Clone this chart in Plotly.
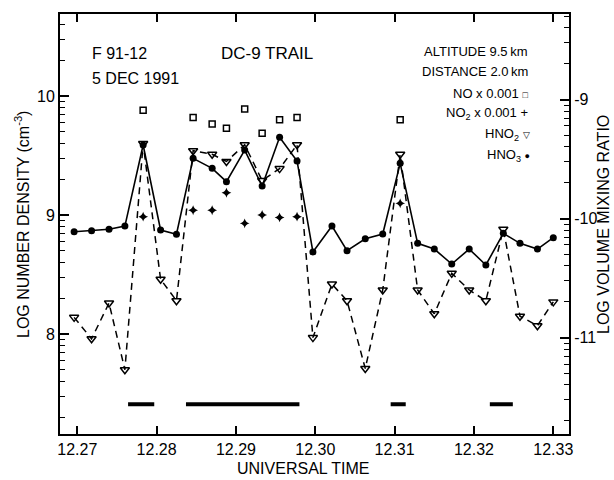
import numpy as np
import plotly.graph_objects as go

# ---- data ----
time = [12.2696, 12.2718, 12.2740, 12.2760, 12.2783, 12.2805, 12.2825, 12.2846,
        12.2870, 12.2888, 12.2911, 12.2933, 12.2955, 12.2977, 12.2997, 12.3021,
        12.3040, 12.3063, 12.3085, 12.3107, 12.3129, 12.3150, 12.3172, 12.3194,
        12.3215, 12.3237, 12.3258, 12.3280, 12.3300]
hno3 = [8.86, 8.868, 8.88, 8.907, 9.588, 8.874, 8.838, 9.476,
        9.392, 9.28, 9.546, 9.244, 9.653, 9.454, 8.69, 8.908,
        8.70, 8.80, 8.84, 9.434, 8.762, 8.714, 8.588, 8.714,
        8.58, 8.846, 8.762, 8.714, 8.81]
hno2 = [8.14, 7.96, 8.26, 7.70, 9.60, 8.46, 8.28, 9.54,
        9.51, 9.45, 9.59, 9.29, 9.39, 9.59, 7.97, 8.42,
        8.28, 7.71, 8.37, 9.51, 8.37, 8.17, 8.51, 8.37,
        8.28, 8.88, 8.15, 8.07, 8.27]
no_time = [12.2783, 12.2846, 12.2870, 12.2888, 12.2911, 12.2933, 12.2955, 12.2977, 12.3107]
no_vals = [9.88, 9.82, 9.765, 9.73, 9.89, 9.687, 9.80, 9.82, 9.80]
no2_time = [12.2783, 12.2846, 12.2870, 12.2888, 12.2911, 12.2933, 12.2955, 12.2977, 12.3107]
no2_vals = [8.986, 9.04, 9.04, 9.187, 8.93, 9.00, 8.98, 8.986, 9.098]
bar_start = [12.2764, 12.2837, 12.3095, 12.3220]
bar_end = [12.2797, 12.2980, 12.3114, 12.3249]
bar_level = 7.41

x_ticks = [12.27, 12.28, 12.29, 12.30, 12.31, 12.32, 12.33]
y_ticks = [8, 9, 10]
y2_ticks = [-9, -10, -11]
vmr_offset = 18.97   # log number density - log mixing ratio

# ---- layout constants ----
FONT = "Liberation Sans, Arial, Helvetica, sans-serif"
x_range = [12.26782, 12.33198]
y_range = [7.16, 10.689]
y2_range = [y_range[0] - vmr_offset, y_range[1] - vmr_offset]

def log_minor(lo, hi):
    vals = []
    for n in range(int(np.floor(lo)) - 1, int(np.ceil(hi)) + 1):
        for k in range(2, 10):
            v = n + np.log10(k)
            if lo < v < hi:
                vals.append(v)
    return vals

fig = go.Figure()

# bars at bottom
bx, by = [], []
for s, e in zip(bar_start, bar_end):
    bx += [s, e, None]
    by += [bar_level, bar_level, None]
fig.add_trace(go.Scatter(x=bx, y=by, mode="lines",
                         line=dict(color="black", width=4), hoverinfo="skip"))

# HNO2 dashed with open down triangles
fig.add_trace(go.Scatter(x=time, y=hno2, mode="lines+markers",
                         line=dict(color="black", width=1.5, dash="7px,5px"),
                         marker=dict(symbol="triangle-down-open", size=8,
                                     color="black", line=dict(width=1.5))))
# HNO3 solid with filled circles
fig.add_trace(go.Scatter(x=time, y=hno3, mode="lines+markers",
                         line=dict(color="black", width=1.6),
                         marker=dict(symbol="circle", size=7, color="black")))
# NO squares
fig.add_trace(go.Scatter(x=no_time, y=no_vals, mode="markers",
                         marker=dict(symbol="square-open", size=6, color="black",
                                     line=dict(width=1.5))))
# NO2 crosses
fig.add_trace(go.Scatter(x=no2_time, y=no2_vals, mode="markers",
                         marker=dict(symbol="star-diamond", size=7, color="black")))
# invisible trace for right axis
fig.add_trace(go.Scatter(x=[x_ticks[0]], y=[y2_ticks[1]], yaxis="y2", mode="markers",
                         marker=dict(opacity=0), hoverinfo="skip"))

axis_common = dict(showgrid=False, zeroline=False, showline=True, linecolor="black",
                   linewidth=2, ticks="inside", tickcolor="black",
                   tickfont=dict(family=FONT, size=16, color="black"))

fig.update_layout(
    width=614, height=480,
    margin=dict(l=60, r=45, t=14, b=46),
    paper_bgcolor="white", plot_bgcolor="white",
    showlegend=False,
    font=dict(family=FONT, size=16, color="black"),
    xaxis=dict(range=x_range, tickvals=x_ticks,
               ticktext=[f"{v:.2f}" for v in x_ticks],
               ticklen=8, tickwidth=1.5, mirror="ticks", **axis_common),
    yaxis=dict(range=y_range, tickvals=y_ticks, ticktext=[str(v) for v in y_ticks],
               ticklen=9, tickwidth=1.5, mirror=True,
               minor=dict(tickmode="array", tickvals=log_minor(*y_range),
                          ticks="inside", ticklen=5, tickwidth=1.2, tickcolor="black"),
               **axis_common),
    yaxis2=dict(range=y2_range, overlaying="y", side="right",
                tickvals=y2_ticks, ticktext=[str(v) for v in y2_ticks],
                ticklen=9, tickwidth=1.5,
                minor=dict(tickmode="array", tickvals=log_minor(*y2_range),
                           ticks="inside", ticklen=5, tickwidth=1.2, tickcolor="black"),
                **axis_common),
)

def px_to_paper(px, py):
    return (px - 60) / 509.0, (434 - py) / 420.0

annots = []
def add_text(text, px, py, xanchor="left", size=16, angle=0):
    x, y = px_to_paper(px, py)
    annots.append(dict(text=text, x=x, y=y, xref="paper", yref="paper",
                       xanchor=xanchor, yanchor="middle", showarrow=False,
                       textangle=angle,
                       font=dict(family=FONT, size=size, color="black")))

G = "<span style='font-size:9px'>%s</span>"
add_text("F 91-12", 90, 53)
add_text("5 DEC 1991", 90, 78)
add_text("DC-9 TRAIL", 219, 53, size=17)
add_text("ALTITUDE 9.5\u2009km", 530, 51, xanchor="right", size=13)
add_text("DISTANCE 2.0\u2009km", 530, 72, xanchor="right", size=13)
add_text("NO x 0.001 " + G % "□", 530, 93, xanchor="right", size=13)
add_text("NO<sub>2</sub> x 0.001 +", 530, 113, xanchor="right", size=13)
add_text("HNO<sub>2</sub> " + G % "▽", 532, 134, xanchor="right", size=13)
add_text("HNO<sub>3</sub> " + G % "●", 532, 155, xanchor="right", size=13)
add_text("UNIVERSAL TIME", 303, 468, xanchor="center", size=16)
add_text("LOG NUMBER DENSITY (cm<sup>-3</sup>)", 22, 225, xanchor="center", size=16, angle=-90)
add_text("LOG VOLUME MIXING RATIO", 603, 225, xanchor="center", size=16, angle=-90)

fig.update_layout(annotations=annots)
fig.write_html("out.html")
